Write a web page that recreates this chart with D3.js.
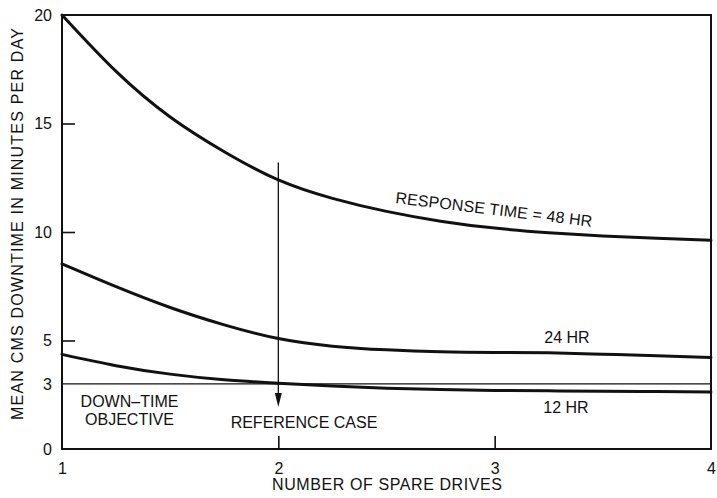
<!DOCTYPE html>
<html>
<head>
<meta charset="utf-8">
<script src="https://cdn.jsdelivr.net/npm/d3@7"></script>
<style>
  html, body { margin: 0; padding: 0; background: #fff; }
  svg { display: block; }
  text { font-family: "Liberation Sans", Arial, Helvetica, sans-serif; fill: #111; }
</style>
</head>
<body>
<svg id="chart" width="717" height="498"></svg>
<script>
// Number of spare drives (x) at which each curve is sampled
const spares = [1, 1.25, 1.5, 1.75, 2, 2.25, 2.5, 2.75, 3, 3.25, 3.5, 3.75, 4];

// Mean CMS downtime (minutes per day) for each response time
const resp48 = [20, 17.4, 15.3, 13.7, 12.4, 11.55, 10.95, 10.5, 10.18, 9.97, 9.82, 9.71, 9.62];
const resp24 = [8.53, 7.48, 6.52, 5.72, 5.09, 4.74, 4.57, 4.48, 4.45, 4.43, 4.37, 4.3, 4.22];
const resp12 = [4.36, 3.84, 3.45, 3.19, 3.03, 2.9, 2.8, 2.74, 2.7, 2.68, 2.66, 2.645, 2.63];

const objective = 3;          // down-time objective, minutes per day
const referenceSpares = 2;    // reference case

const xTickLabels = [1, 2, 3, 4];
const xTickMarks = [2, 3];
const yTickLabels = [0, 3, 5, 10, 15, 20];
const yTickMarks = [5, 10, 15];

const svg = d3.select("#chart");
const x = d3.scaleLinear().domain([1, 4]).range([62, 711]);
const y = d3.scaleLinear().domain([0, 20]).range([449, 15]);

// Tick labels (no outer tick lines)
const yLab = svg.append("g").attr("transform", `translate(${x(1)},0)`)
  .call(d3.axisLeft(y).tickValues(yTickLabels).tickSize(0).tickPadding(10).tickFormat(d3.format("d")));
const xLab = svg.append("g").attr("transform", `translate(0,${y(0)})`)
  .call(d3.axisBottom(x).tickValues(xTickLabels).tickSize(0).tickPadding(14).tickFormat(d3.format("d")));
[yLab, xLab].forEach(g => {
  g.select(".domain").remove();
  g.selectAll("text").attr("font-size", 16).attr("font-family", "Liberation Sans, Arial, sans-serif").attr("fill", "#111");
});

// Inward tick marks
const yIn = svg.append("g").attr("transform", `translate(${x(1)},0)`)
  .call(d3.axisRight(y).tickValues(yTickMarks).tickSize(13).tickFormat(""));
const xIn = svg.append("g").attr("transform", `translate(0,${y(0)})`)
  .call(d3.axisTop(x).tickValues(xTickMarks).tickSize(13).tickFormat(""));
[yIn, xIn].forEach(g => {
  g.select(".domain").remove();
  g.selectAll("line").attr("stroke", "#111").attr("stroke-width", 1.6);
});

// Frame
svg.append("rect")
  .attr("x", x(1)).attr("y", y(20))
  .attr("width", x(4) - x(1)).attr("height", y(0) - y(20))
  .attr("fill", "none").attr("stroke", "#111").attr("stroke-width", 2);

// Down-time objective line
svg.append("line")
  .attr("x1", x(1)).attr("x2", x(4))
  .attr("y1", y(objective)).attr("y2", y(objective))
  .attr("stroke", "#111").attr("stroke-width", 1.3);

// Curves (natural cubic spline through the sampled values)
const line = d3.line()
  .x((d, i) => x(spares[i]))
  .y(d => y(d))
  .curve(d3.curveNatural);

[resp48, resp24, resp12].forEach(series => {
  svg.append("path")
    .attr("d", line(series))
    .attr("fill", "none")
    .attr("stroke", "#111")
    .attr("stroke-width", 3)
    .attr("stroke-linecap", "round");
});

// Reference case arrow
const ax = x(referenceSpares);
const arrowTop = y(13.2), arrowTip = y(1.93);
svg.append("line")
  .attr("x1", ax).attr("x2", ax)
  .attr("y1", arrowTop).attr("y2", arrowTip - 10)
  .attr("stroke", "#111").attr("stroke-width", 1.3);
svg.append("path")
  .attr("d", `M${ax - 3.5},${arrowTip - 14} L${ax + 3.5},${arrowTip - 14} L${ax},${arrowTip} Z`)
  .attr("fill", "#111");

// Annotations
function label(txt, px, py, opts = {}) {
  const t = svg.append("text")
    .attr("x", px).attr("y", py)
    .attr("font-size", opts.size || 16)
    .attr("text-anchor", opts.anchor || "middle")
    .text(txt);
  if (opts.len) t.attr("textLength", opts.len).attr("lengthAdjust", "spacing");
  if (opts.rotate !== undefined) t.attr("transform", `rotate(${opts.rotate},${px},${py})`);
  return t;
}

label("RESPONSE TIME = 48 HR", 395, 203, { anchor: "start", rotate: 6.9, len: 198 });
label("24 HR", 567, 343);
label("12 HR", 566, 413);
label("REFERENCE CASE", 304, 428);
label("DOWN\u2013TIME", 129.5, 407);
label("OBJECTIVE", 129.5, 425);

// Axis titles
label("NUMBER OF SPARE DRIVES", 387, 490, { len: 230 });
label("MEAN CMS DOWNTIME IN MINUTES PER DAY", 23, 224, { rotate: -90, len: 392 });
</script>
</body>
</html>
